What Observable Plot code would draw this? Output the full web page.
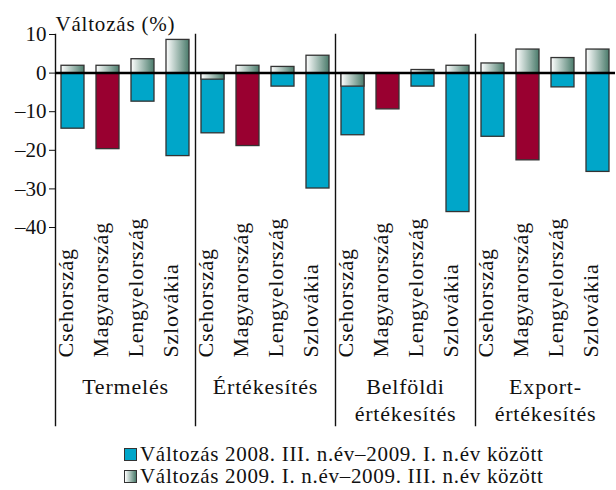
<!DOCTYPE html>
<html><head><meta charset="utf-8">
<script src="https://cdn.jsdelivr.net/npm/d3@7"></script>
<script src="https://cdn.jsdelivr.net/npm/@observablehq/plot@0.6"></script>
<style>
body{margin:0;background:#fff;font-family:'Liberation Serif',serif;color:#111;}
#legend{margin-left:124px;font-size:21px;line-height:22px;margin-top:11px;font-family:'Liberation Serif',serif;letter-spacing:0.7px;}
#legend div{white-space:nowrap;}
.sw{display:inline-block;width:11px;height:11px;border:1px solid #333;margin-right:3px;vertical-align:0px;}
#chart g[aria-label="text"] text{letter-spacing:0.8px;}
</style></head><body><div id="chart"></div><div id="legend"></div>
<script>
const groups = ["Termelés", "Értékesítés", "Belföldi\nértékesítés", "Export-\nértékesítés"];
const countries = ["Csehország", "Magyarország", "Lengyelország", "Szlovákia"];
// Változás 2008. III. n.év–2009. I. n.év között
const change1 = [
  -14.4, -19.7, -7.4, -21.5,
  -15.6, -18.9, -3.5, -29.9,
  -16.1, -9.4, -3.5, -36.0,
  -16.5, -22.6, -3.7, -25.6
];
// Változás 2009. I. n.év–2009. III. n.év között
const change2 = [
  1.9, 1.9, 3.6, 8.6,
  -1.7, 1.9, 1.6, 4.5,
  -3.5, 0, 0.8, 1.9,
  2.5, 6.1, 3.9, 6.1
];
const yTicks = [10, 0, -10, -20, -30, -40];
const seriesLabels = ["Változás 2008. III. n.év–2009. I. n.év között", "Változás 2009. I. n.év–2009. III. n.év között"];
const yTitle = "Változás (%)";

const FONT = "'Liberation Serif', serif";
const BLUE = "#00a6c9", RED = "#990030";
const rows = groups.flatMap((g, i) => countries.map((c, j) => ({group: g, country: c, v1: change1[i*4+j], v2: change2[i*4+j]})));

const chart = Plot.plot({
  width: 616, height: 432,
  marginLeft: 54, marginRight: 0, marginTop: 34, marginBottom: 205,
  style: {fontFamily: FONT, fontSize: "21px", color: "#111", background: "#fff"},
  fx: {domain: groups, padding: 0, axis: null},
  x: {domain: countries, paddingInner: 0.35, paddingOuter: 0.15, axis: null},
  y: {domain: [-40, 10], ticks: yTicks, tickSize: 6, tickPadding: 3, label: null, tickFormat: d => d < 0 ? "\u2013" + Math.abs(d) : String(d)},
  marks: [
    Plot.frame({anchor: "left", stroke: "#111", strokeWidth: 1.4, insetBottom: -198}),
    Plot.barY(rows, {fx: "group", x: "country", y: "v1", fill: d => d.country === "Magyarország" ? RED : BLUE, stroke: "#333", strokeWidth: 1.3}),
    Plot.barY(rows.filter(d => d.v2 !== 0), {fx: "group", x: "country", y: "v2", fill: "url(#grad)", stroke: "#333", strokeWidth: 1.3}),
    Plot.ruleY([0], {stroke: "#000", strokeWidth: 2.5}),
    Plot.text(rows, {fx: "group", x: "country", text: "country", frameAnchor: "bottom", rotate: -90, textAnchor: "start", dy: 130, fontSize: 22, fontFamily: FONT}),
    Plot.text(groups, {fx: d => d, text: d => d, frameAnchor: "bottom", lineAnchor: "top", dy: 148, fontSize: 22, lineHeight: 1.2, fontFamily: FONT}),
    Plot.text([groups[0]], {fx: d => d, text: () => yTitle, frameAnchor: "top-left", textAnchor: "start", lineAnchor: "bottom", dy: -4, dx: 0, fontSize: 21, fontFamily: FONT})
  ]
});

const defs = d3.select(chart).insert("defs", ":first-child");
const lg = defs.append("linearGradient").attr("id", "grad").attr("x1", 0).attr("x2", 1).attr("y1", 0).attr("y2", 0);
lg.append("stop").attr("offset", "0%").attr("stop-color", "#ffffff");
lg.append("stop").attr("offset", "100%").attr("stop-color", "#4a7b6b");
document.getElementById("chart").append(chart);

const legend = document.getElementById("legend");
const swatches = [BLUE, "linear-gradient(to right, #ffffff, #4a7b6b)"];
seriesLabels.forEach((t, i) => {
  const row = document.createElement("div");
  const sw = document.createElement("span");
  sw.className = "sw";
  sw.style.background = swatches[i];
  row.append(sw, document.createTextNode(t));
  legend.append(row);
});
</script></body></html>
